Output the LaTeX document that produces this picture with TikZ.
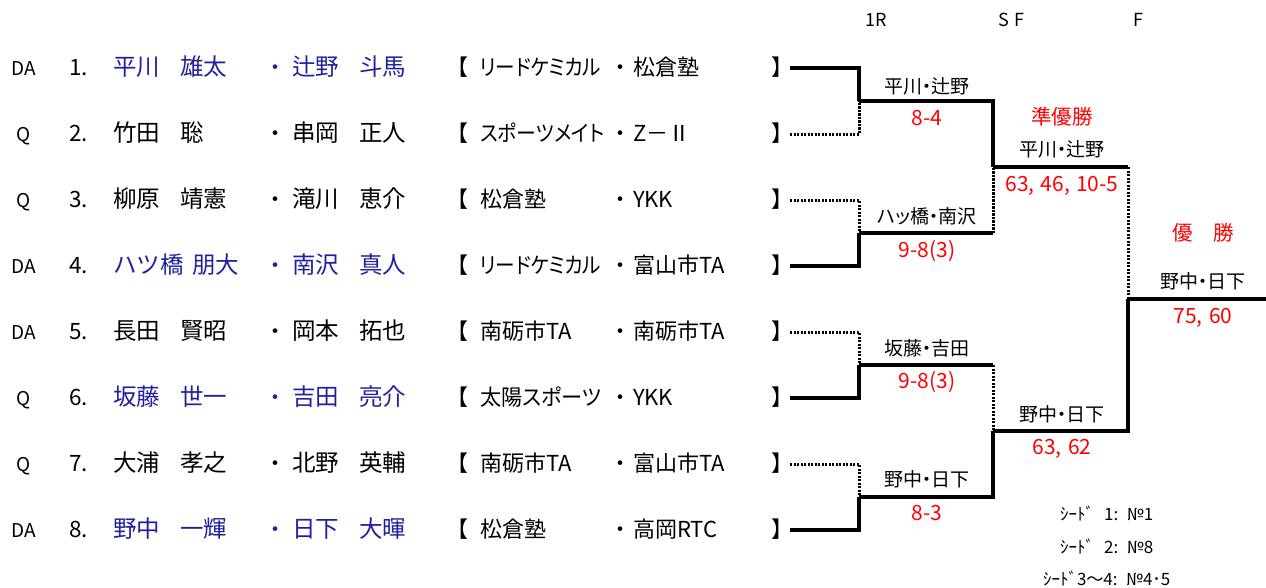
\documentclass[tikz,border=0pt]{standalone}
\usepackage{fontspec}
\usepackage{graphicx}
\setmainfont{Noto Sans CJK JP}
\newfontfamily\pfont[RawFeature=+palt]{Noto Sans CJK JP}
\definecolor{nblue}{RGB}{32,32,160}
\definecolor{nred}{RGB}{255,0,0}
\begin{document}
\begin{tikzpicture}[x=1pt,y=-1pt,
  every node/.style={inner sep=0pt,outer sep=0pt},
  tagt/.style={font=\fontsize{19}{22}\selectfont,anchor=base},
  numt/.style={font=\fontsize{22.5}{26}\selectfont,anchor=base west},
  nmt/.style={font=\fontsize{23.5}{26}\selectfont,anchor=base west},
  dott/.style={font=\fontsize{22}{26}\selectfont,anchor=base},
  teamt/.style={font=\pfont\fontsize{22}{26}\selectfont,anchor=base west},
  brt/.style={font=\fontsize{22}{26}\selectfont},
  hdt/.style={font=\fontsize{18}{22}\selectfont,anchor=base west},
  pairt/.style={font=\pfont\fontsize{19}{22}\selectfont,anchor=base},
  scoret/.style={font=\fontsize{21}{24}\selectfont,anchor=base,text=nred},
  titlet/.style={font=\fontsize{20.5}{24}\selectfont,anchor=base,text=nred},
  seedt/.style={font=\fontsize{17}{20}\selectfont,anchor=base west},
  win/.style={line width=4pt},
  lose/.style={line width=3pt,dash pattern=on 2.3pt off 1.2pt}]
\useasboundingbox (0,0) rectangle (1266,587);

% headers
\node[hdt] (h1) at (865,26) {1R};
\node[hdt] (h2) at (998,26) {S\,\,F};
\node[hdt] (h3) at (1133,26) {F};

% entries
\foreach \i/\tg/\c/\na/\nx/\nab/\nb/\nbb/\ta/\sx/\tb in {
1/DA/nblue/平川/181/雄太/辻野/斗馬/リードケミカル/0.89/松倉塾,
2/Q/black/竹田/181/聡/串岡/正人/スポーツメイト/0.9/Z－Ⅱ,
3/Q/black/柳原/181/靖憲/滝川/恵介/松倉塾/1/YKK,
4/DA/nblue/ハツ橋/193/朋大/南沢/真人/リードケミカル/0.89/富山市TA,
5/DA/black/長田/181/賢昭/岡本/拓也/南砺市TA/1/南砺市TA,
6/Q/nblue/坂藤/181/世一/吉田/亮介/太陽スポーツ/0.96/YKK,
7/Q/black/大浦/181/孝之/北野/英輔/南砺市TA/1/富山市TA,
8/DA/nblue/野中/181/一輝/日下/大暉/松倉塾/1/高岡RTC}{
  \node[tagt] (tag\i) at (24,{9+66*\i}) {\tg};
  \node[numt] (num\i) at (69,{9+66*\i}) {\i.};
  \node[nmt,text=\c] (na\i) at (113,{9+66*\i}) {\na};
  \node[nmt,text=\c] (nab\i) at (\nx-1,{9+66*\i}) {\nab};
  \node[dott,text=\c] (d\i) at (275,{9+66*\i}) {・};
  \node[nmt,text=\c] (nb\i) at (292,{9+66*\i}) {\nb};
  \node[nmt,text=\c] (nbb\i) at (359,{9+66*\i}) {\nbb};
  \node[brt,anchor=base east] (lb\i) at (468,{9+66*\i}) {【};
  \node[teamt] (ta\i) at (480,{9+66*\i}) {\scalebox{\sx}[1]{\ta}};
  \node[dott] (e\i) at (620,{9+66*\i}) {・};
  \node[teamt] (tb\i) at (633,{9+66*\i}) {\tb};
  \node[brt,anchor=base west] (rb\i) at (771,{9+66*\i}) {】};
  \coordinate (r\i) at (790,{2+66*\i});
}

% bracket points
\coordinate (m1) at (859,101);
\coordinate (m2) at (859,233);
\coordinate (m3) at (859,365);
\coordinate (m4) at (859,497);
\coordinate (s1) at (993,167);
\coordinate (s2) at (993,431);
\coordinate (f) at (1128,299);
\coordinate (fe) at (1266,299);

% first round
\draw[win] (r1) -| (m1);
\draw[lose] (r2) -| (m1);
\draw[lose] (r3) -| (m2);
\draw[win] (r4) -| (m2);
\draw[lose] (r5) -| (m3);
\draw[win] (r6) -| (m3);
\draw[lose] (r7) -| (m4);
\draw[win] (r8) -| (m4);
% semifinal
\draw[win] (m1) -| (s1);
\draw[win] (m2) -- (m2 -| s1);
\draw[lose] (m2 -| s1) -- (s1);
\draw[win] (m3) -- (m3 -| s2);
\draw[lose] (m3 -| s2) -- (s2);
\draw[win] (m4) -| (s2);
% final
\draw[win] (s1) -- (s1 -| f);
\draw[lose] (s1 -| f) -- (f);
\draw[win] (s2) -| (f);
\draw[win] (f) -- (fe);

% labels
\node[pairt] (p1) at (927,93) {平川・辻野};
\node[scoret] (sc1) at (927,125) {8-4};
\node[pairt] (p2) at (927,223) {ハッ橋・南沢};
\node[scoret] (sc2) at (927,257) {9-8(3)};
\node[pairt] (p3) at (927,355) {坂藤・吉田};
\node[scoret] (sc3) at (927,388) {9-8(3)};
\node[pairt] (p4) at (927,486) {野中・日下};
\node[scoret] (sc4) at (927,520) {8-3};
\node[titlet] (ru) at (1062,124) {準優勝};
\node[pairt] (ps1) at (1062,156) {平川・辻野};
\node[scoret] (ss1) at (1062,191) {63,\hspace{0.3em}46,\hspace{0.3em}10-5};
\node[pairt] (ps2) at (1062,421) {野中・日下};
\node[scoret] (ss2) at (1062,454) {63,\hspace{0.3em}62};
\node[titlet] (ch) at (1203,240) {優　勝};
\node[pairt] (pf) at (1203,288) {野中・日下};
\node[scoret] (sf) at (1203,323) {75,\hspace{0.3em}60};

% seeds
\node[seedt] (sd1) at (1060,520) {ｼｰﾄﾞ\hspace{0.6em}1:\hspace{0.5em}№1};
\node[seedt] (sd2) at (1060,553) {ｼｰﾄﾞ\hspace{0.6em}2:\hspace{0.5em}№8};
\node[seedt] (sd3) at (1043,585) {ｼｰﾄﾞ3～4:\hspace{0.5em}№4･5};
\end{tikzpicture}
\end{document}
